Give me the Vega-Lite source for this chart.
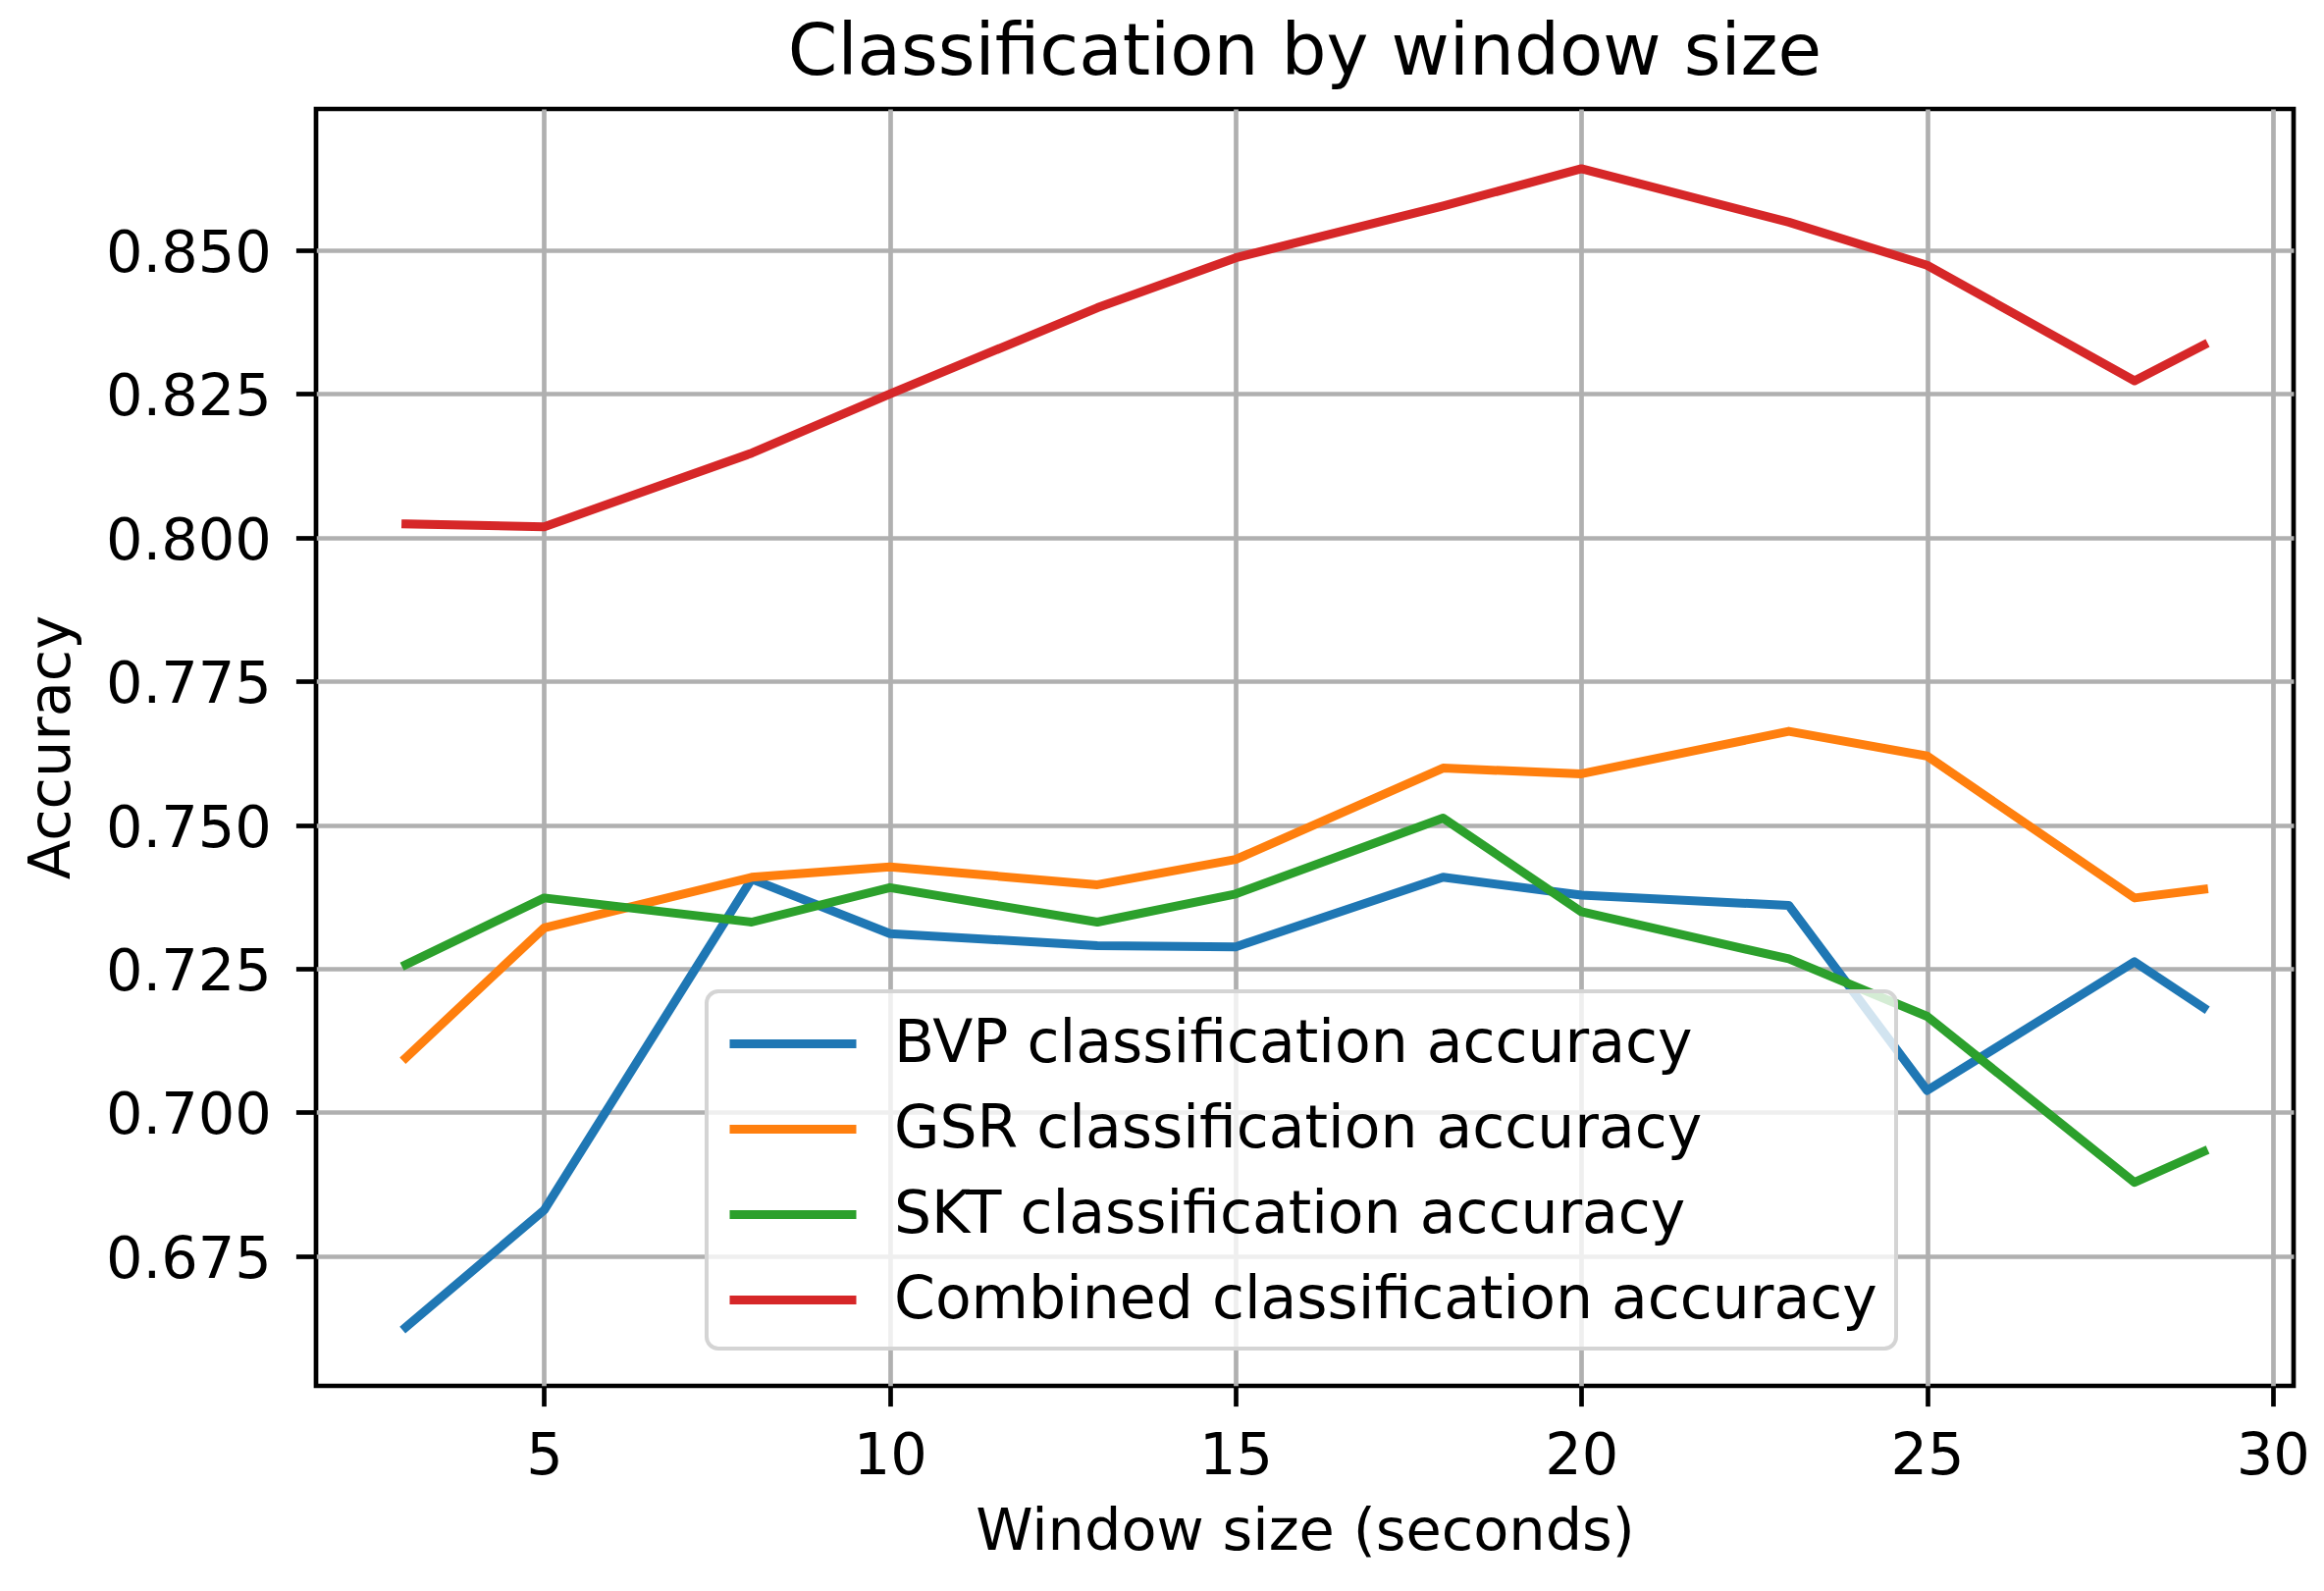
{
  "$schema": "https://vega.github.io/schema/vega-lite/v6.json",
  "width": 2015,
  "height": 1301,
  "autosize": {"type": "none"},
  "padding": {"left": 322, "top": 111, "right": 31, "bottom": 209},
  "background": "white",
  "title": {
    "text": "Classification by window size",
    "font": "DejaVu Sans",
    "fontSize": 72.5,
    "fontWeight": "normal",
    "color": "black",
    "anchor": "middle",
    "frame": "group",
    "baseline": "alphabetic",
    "offset": 32,
    "dy": 69
  },
  "data": {
    "values": [
      {"window": 3, "series": "BVP classification accuracy", "accuracy": 0.6626},
      {"window": 5, "series": "BVP classification accuracy", "accuracy": 0.6830},
      {"window": 8, "series": "BVP classification accuracy", "accuracy": 0.7406},
      {"window": 10, "series": "BVP classification accuracy", "accuracy": 0.7311},
      {"window": 13, "series": "BVP classification accuracy", "accuracy": 0.7290},
      {"window": 15, "series": "BVP classification accuracy", "accuracy": 0.7288},
      {"window": 18, "series": "BVP classification accuracy", "accuracy": 0.7409},
      {"window": 20, "series": "BVP classification accuracy", "accuracy": 0.7378},
      {"window": 23, "series": "BVP classification accuracy", "accuracy": 0.7360},
      {"window": 25, "series": "BVP classification accuracy", "accuracy": 0.7038},
      {"window": 28, "series": "BVP classification accuracy", "accuracy": 0.7262},
      {"window": 29, "series": "BVP classification accuracy", "accuracy": 0.7182},
      {"window": 3, "series": "GSR classification accuracy", "accuracy": 0.7095},
      {"window": 5, "series": "GSR classification accuracy", "accuracy": 0.7321},
      {"window": 8, "series": "GSR classification accuracy", "accuracy": 0.7409},
      {"window": 10, "series": "GSR classification accuracy", "accuracy": 0.7427},
      {"window": 13, "series": "GSR classification accuracy", "accuracy": 0.7396},
      {"window": 15, "series": "GSR classification accuracy", "accuracy": 0.7440},
      {"window": 18, "series": "GSR classification accuracy", "accuracy": 0.7599},
      {"window": 20, "series": "GSR classification accuracy", "accuracy": 0.7589},
      {"window": 23, "series": "GSR classification accuracy", "accuracy": 0.7663},
      {"window": 25, "series": "GSR classification accuracy", "accuracy": 0.7620},
      {"window": 28, "series": "GSR classification accuracy", "accuracy": 0.7373},
      {"window": 29, "series": "GSR classification accuracy", "accuracy": 0.7388},
      {"window": 3, "series": "SKT classification accuracy", "accuracy": 0.7257},
      {"window": 5, "series": "SKT classification accuracy", "accuracy": 0.7373},
      {"window": 8, "series": "SKT classification accuracy", "accuracy": 0.7331},
      {"window": 10, "series": "SKT classification accuracy", "accuracy": 0.7391},
      {"window": 13, "series": "SKT classification accuracy", "accuracy": 0.7331},
      {"window": 15, "series": "SKT classification accuracy", "accuracy": 0.7380},
      {"window": 18, "series": "SKT classification accuracy", "accuracy": 0.7512},
      {"window": 20, "series": "SKT classification accuracy", "accuracy": 0.7349},
      {"window": 23, "series": "SKT classification accuracy", "accuracy": 0.7267},
      {"window": 25, "series": "SKT classification accuracy", "accuracy": 0.7167},
      {"window": 28, "series": "SKT classification accuracy", "accuracy": 0.6878},
      {"window": 29, "series": "SKT classification accuracy", "accuracy": 0.6932},
      {"window": 3, "series": "Combined classification accuracy", "accuracy": 0.8024},
      {"window": 5, "series": "Combined classification accuracy", "accuracy": 0.8019},
      {"window": 8, "series": "Combined classification accuracy", "accuracy": 0.8147},
      {"window": 10, "series": "Combined classification accuracy", "accuracy": 0.8250},
      {"window": 13, "series": "Combined classification accuracy", "accuracy": 0.8400},
      {"window": 15, "series": "Combined classification accuracy", "accuracy": 0.8487},
      {"window": 18, "series": "Combined classification accuracy", "accuracy": 0.8577},
      {"window": 20, "series": "Combined classification accuracy", "accuracy": 0.8642},
      {"window": 23, "series": "Combined classification accuracy", "accuracy": 0.8549},
      {"window": 25, "series": "Combined classification accuracy", "accuracy": 0.8474},
      {"window": 28, "series": "Combined classification accuracy", "accuracy": 0.8273},
      {"window": 29, "series": "Combined classification accuracy", "accuracy": 0.8335}
    ]
  },
  "mark": {"type": "line", "strokeWidth": 9, "strokeCap": "square", "strokeJoin": "round", "clip": true},
  "encoding": {
    "x": {
      "field": "window",
      "type": "quantitative",
      "title": "Window size (seconds)",
      "scale": {"domain": [1.7, 30.3], "nice": false, "zero": false},
      "axis": {
        "values": [5, 10, 15, 20, 25, 30],
        "labelBaseline": "alphabetic",
        "labelPadding": 69,
        "titleBaseline": "alphabetic",
        "titleY": 166
      }
    },
    "y": {
      "field": "accuracy",
      "type": "quantitative",
      "title": "Accuracy",
      "scale": {"domain": [0.6524, 0.8746], "nice": false, "zero": false},
      "axis": {
        "values": [0.675, 0.7, 0.725, 0.75, 0.775, 0.8, 0.825, 0.85],
        "format": ".3f",
        "labelBaseline": "alphabetic",
        "labelOffset": 21.5,
        "labelPadding": 25,
        "titleBaseline": "alphabetic",
        "titleX": -252,
        "titleY": 650
      }
    },
    "color": {
      "field": "series",
      "type": "nominal",
      "title": null,
      "sort": ["BVP classification accuracy", "GSR classification accuracy", "SKT classification accuracy", "Combined classification accuracy"],
      "scale": {
        "domain": ["BVP classification accuracy", "GSR classification accuracy", "SKT classification accuracy", "Combined classification accuracy"],
        "range": ["#1f77b4", "#ff7f0e", "#2ca02c", "#d62728"]
      },
      "legend": {
        "orient": "none",
        "legendX": 398,
        "legendY": 899,
        "padding": 19,
        "rowPadding": 22,
        "fillColor": "rgba(255,255,255,0.8)",
        "strokeColor": "#d4d4d4",
        "cornerRadius": 12,
        "symbolType": "M-1,0H3.3",
        "symbolSize": 3600,
        "symbolStrokeWidth": 9,
        "labelOffset": 103,
        "labelFont": "DejaVu Sans",
        "labelFontSize": 60,
        "labelColor": "black",
        "labelLimit": 2000
      }
    }
  },
  "config": {
    "view": {"stroke": "black", "strokeWidth": 4.7},
    "legend": {"strokeWidth": 4},
    "axis": {
      "domain": false,
      "grid": true,
      "gridColor": "#b0b0b0",
      "gridWidth": 4.7,
      "gridOpacity": 1,
      "ticks": true,
      "tickColor": "black",
      "tickSize": 20.6,
      "tickWidth": 4.7,
      "labelFont": "DejaVu Sans",
      "labelFontSize": 59,
      "labelColor": "black",
      "titleFont": "DejaVu Sans",
      "titleFontSize": 59,
      "titleFontWeight": "normal",
      "titleColor": "black",
      "labelFlush": false,
      "labelOverlap": false
    }
  }
}
